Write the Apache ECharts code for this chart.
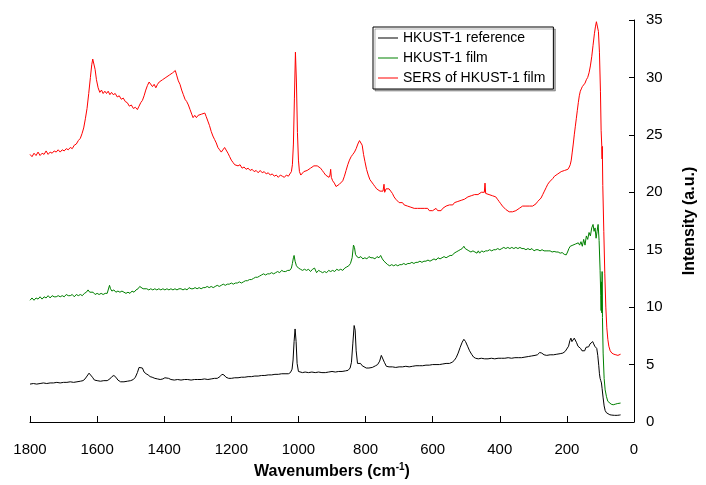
<!DOCTYPE html>
<html>
<head>
<meta charset="utf-8">
<title>HKUST-1 Raman spectra</title>
<script src="https://cdn.jsdelivr.net/npm/echarts@6/dist/echarts.min.js"></script>
<style>
  html, body { margin: 0; padding: 0; background: #fff; }
  #chart { width: 706px; height: 485px; }
</style>
</head>
<body>
<div id="chart"></div>
<script>
// Raman spectra, [wavenumber (cm-1), intensity (a.u.)]
const referenceSpectrum = [
  [1800,3.3],[1790,3.35],[1780,3.3],[1770,3.35],[1760,3.4],[1750,3.35],[1740,3.4],[1730,3.4],[1720,3.45],[1710,3.4],
  [1700,3.45],[1690,3.45],[1680,3.5],[1670,3.45],[1660,3.5],[1650,3.55],[1642,3.6],[1636,3.75],[1630,4.0],[1624,4.25],
  [1619,4.2],[1614,3.9],[1608,3.65],[1600,3.6],[1590,3.55],[1580,3.6],[1570,3.6],[1562,3.75],[1556,3.95],[1550,4.05],
  [1544,3.9],[1538,3.65],[1530,3.5],[1520,3.5],[1510,3.55],[1500,3.6],[1492,3.7],[1486,3.9],[1480,4.3],[1475,4.75],
  [1470,4.9],[1465,4.7],[1460,4.35],[1454,4.2],[1448,4.1],[1442,3.95],[1436,3.9],[1428,3.8],[1420,3.75],[1412,3.7],
  [1404,3.75],[1398,3.85],[1393,3.9],[1387,3.8],[1380,3.7],[1370,3.65],[1360,3.7],[1350,3.65],[1340,3.7],[1330,3.7],
  [1320,3.65],[1310,3.7],[1300,3.7],[1290,3.7],[1280,3.75],[1270,3.7],[1260,3.75],[1250,3.8],[1242,3.8],[1234,3.95],
  [1228,4.15],[1222,4.1],[1216,3.9],[1208,3.8],[1200,3.8],[1190,3.85],[1180,3.85],[1170,3.9],[1160,3.9],[1150,3.95],
  [1140,3.95],[1130,4.0],[1120,4.0],[1110,4.05],[1100,4.05],[1090,4.1],[1080,4.1],[1070,4.15],[1060,4.15],[1050,4.2],
  [1040,4.2],[1030,4.2],[1024,4.3],[1019,4.6],[1016,5.4],[1013,7.0],[1010,8.1],[1007,7.0],[1004,5.1],[1000,4.4],
  [995,4.3],[988,4.3],[980,4.35],[970,4.3],[960,4.35],[950,4.3],[940,4.35],[930,4.3],[920,4.3],[910,4.35],
  [900,4.4],[890,4.35],[880,4.4],[870,4.4],[860,4.45],[852,4.5],[846,4.7],[842,5.2],[838,6.8],[834,8.4],
  [831,8.0],[828,6.2],[824,5.1],[820,5.0],[815,5.1],[810,4.9],[805,4.75],[798,4.7],[790,4.7],[780,4.75],
  [770,4.9],[764,5.0],[758,5.3],[753,5.8],[749,5.7],[744,5.2],[738,4.85],[730,4.8],[720,4.8],[710,4.75],
  [700,4.8],[690,4.8],[680,4.85],[670,4.8],[660,4.85],[650,4.9],[640,4.9],[630,4.9],[620,4.95],[610,4.95],
  [600,5.0],[590,5.0],[580,5.0],[570,5.05],[560,5.1],[550,5.1],[542,5.2],[536,5.35],[530,5.6],[524,6.0],
  [518,6.5],[512,6.95],[507,7.2],[502,7.0],[496,6.6],[490,6.2],[484,5.9],[478,5.65],[472,5.55],[464,5.5],
  [455,5.55],[445,5.5],[435,5.5],[425,5.55],[415,5.5],[405,5.55],[395,5.55],[385,5.55],[375,5.6],[365,5.55],
  [355,5.6],[345,5.6],[335,5.6],[325,5.65],[315,5.7],[305,5.75],[295,5.8],[288,5.85],[281,6.05],[275,6.0],
  [268,5.85],[260,5.8],[250,5.85],[240,5.85],[230,5.9],[220,5.95],[212,6.0],[205,6.15],[200,6.3],[195,6.6],
  [191,7.1],[188,7.3],[185,7.0],[181,7.0],[178,7.3],[175,7.2],[171,6.9],[167,6.6],[163,6.5],[159,6.4],
  [155,6.2],[151,6.1],[147,6.2],[143,6.5],[139,6.4],[135,6.55],[131,6.8],[127,6.9],[123,7.0],[120,6.8],
  [117,6.6],[114,6.7],[111,6.4],[108,5.8],[105,4.9],[103,4.2],[101,3.8],[99,3.6],[97,3.4],[95,2.9],
  [92,2.1],[89,1.4],[86,1.0],[82,0.8],[78,0.7],[72,0.63],[66,0.6],[58,0.58],[50,0.58],[44,0.6],[40,0.62]
];

const filmSpectrum = [
  [1800,10.6],[1794,10.8],[1788,10.6],[1782,10.8],[1776,10.7],[1770,10.9],[1764,10.7],[1758,10.9],[1752,10.8],[1746,11.0],
  [1740,10.8],[1734,11.0],[1728,10.9],[1722,10.9],[1716,11.0],[1710,10.9],[1704,11.0],[1698,10.9],[1692,11.1],[1686,11.0],
  [1680,11.0],[1674,11.1],[1668,10.9],[1662,11.1],[1656,11.0],[1650,11.1],[1644,11.0],[1638,11.2],[1632,11.3],[1627,11.5],
  [1622,11.3],[1617,11.2],[1612,11.3],[1606,11.1],[1600,11.2],[1594,11.1],[1588,11.2],[1582,11.1],[1576,11.2],[1570,11.2],
  [1566,11.3],[1563,11.9],[1560,11.6],[1556,11.4],[1550,11.5],[1544,11.3],[1538,11.4],[1532,11.3],[1526,11.4],[1520,11.3],
  [1514,11.2],[1508,11.3],[1502,11.2],[1496,11.4],[1490,11.3],[1484,11.5],[1478,11.6],[1473,11.8],[1468,11.8],[1463,11.6],
  [1458,11.5],[1452,11.6],[1446,11.5],[1440,11.6],[1434,11.5],[1428,11.6],[1422,11.5],[1416,11.6],[1410,11.5],[1404,11.6],
  [1398,11.5],[1392,11.6],[1386,11.5],[1380,11.6],[1374,11.5],[1368,11.6],[1362,11.5],[1356,11.6],[1350,11.6],[1344,11.5],
  [1338,11.6],[1332,11.5],[1326,11.7],[1320,11.6],[1314,11.6],[1308,11.7],[1302,11.6],[1296,11.7],[1290,11.6],[1284,11.7],
  [1278,11.7],[1272,11.8],[1266,11.7],[1260,11.8],[1254,11.7],[1248,11.8],[1242,11.9],[1236,11.8],[1230,11.9],[1224,12.0],
  [1218,11.9],[1212,12.0],[1206,12.0],[1200,12.1],[1194,12.0],[1188,12.1],[1182,12.1],[1176,12.2],[1170,12.1],[1164,12.2],
  [1158,12.3],[1152,12.3],[1146,12.4],[1140,12.4],[1134,12.5],[1128,12.6],[1122,12.6],[1116,12.7],[1110,12.8],[1104,12.9],
  [1098,12.8],[1092,12.9],[1086,12.9],[1080,13.0],[1074,12.9],[1068,13.0],[1062,13.1],[1056,13.0],[1050,13.2],[1044,13.1],
  [1038,13.1],[1032,13.2],[1026,13.2],[1021,13.4],[1018,13.8],[1015,14.3],[1013,14.5],[1010,14.0],[1006,13.6],[1000,13.4],
  [994,13.3],[988,13.2],[982,13.3],[976,13.2],[970,13.3],[964,13.1],[958,13.3],[952,13.4],[946,13.0],[940,13.2],
  [934,13.1],[928,13.0],[922,13.1],[916,13.0],[910,13.2],[904,13.1],[898,13.2],[892,13.1],[886,13.3],[880,13.2],
  [874,13.3],[868,13.2],[862,13.4],[856,13.5],[850,13.6],[845,13.8],[840,14.3],[836,15.4],[833,15.2],[830,14.6],
  [826,14.4],[820,14.3],[814,14.4],[808,14.2],[802,14.3],[796,14.2],[790,14.4],[784,14.3],[778,14.3],[772,14.2],
  [766,14.4],[760,14.3],[755,14.5],[750,14.2],[745,14.0],[740,13.9],[734,13.7],[728,13.6],[722,13.7],[716,13.6],
  [710,13.7],[704,13.6],[698,13.7],[692,13.7],[686,13.8],[680,13.7],[674,13.8],[668,13.8],[662,13.9],[656,13.8],
  [650,13.9],[644,13.9],[638,14.0],[632,13.9],[626,14.0],[620,14.0],[614,14.1],[608,14.0],[602,14.1],[596,14.2],
  [590,14.1],[584,14.3],[578,14.2],[572,14.3],[566,14.4],[560,14.3],[554,14.4],[548,14.5],[542,14.5],[536,14.7],
  [530,14.8],[524,14.9],[518,15.0],[512,15.1],[507,15.3],[503,15.1],[498,15.0],[492,14.9],[486,14.8],[480,14.9],
  [474,14.8],[468,14.7],[464,14.9],[460,14.7],[454,14.9],[448,14.8],[442,14.9],[436,14.9],[430,15.0],[424,14.9],
  [418,15.0],[412,15.0],[406,15.1],[400,15.0],[394,15.1],[388,15.2],[382,15.1],[376,15.2],[370,15.1],[364,15.2],
  [358,15.1],[352,15.2],[346,15.1],[340,15.2],[334,15.1],[328,15.1],[322,15.0],[316,15.1],[310,15.0],[304,15.1],
  [298,14.9],[292,15.0],[286,15.0],[280,14.9],[274,15.0],[268,14.9],[262,14.9],[256,14.9],[250,14.9],[244,14.8],
  [238,14.85],[232,14.8],[226,14.8],[220,14.7],[214,14.75],[208,14.6],[202,14.55],[198,14.8],[194,15.1],[190,15.3],
  [186,15.2],[182,15.4],[178,15.3],[174,15.5],[170,15.4],[166,15.6],[162,15.4],[158,15.7],[154,15.3],[150,15.9],
  [146,15.4],[142,16.2],[138,15.9],[134,16.5],[130,16.2],[126,16.9],[122,17.2],[119,16.6],[116,16.9],[113,16.0],
  [110,16.6],[107,17.2],[104,15.8],[101,13.2],[99,11.0],[98,9.7],[97,12.2],[96,9.5],[95,13.1],[94,9.1],
  [92,6.0],[89,3.8],[86,2.8],[82,2.2],[78,1.8],[73,1.65],[68,1.55],[62,1.5],[56,1.55],[50,1.6],[45,1.65],[40,1.65]
];

const sersSpectrum = [
  [1800,23.3],[1794,23.1],[1788,23.4],[1782,23.2],[1776,23.5],[1770,23.2],[1764,23.4],[1758,23.3],[1752,23.6],[1746,23.3],
  [1740,23.5],[1734,23.4],[1728,23.6],[1722,23.5],[1716,23.7],[1710,23.5],[1704,23.7],[1698,23.6],[1692,23.8],[1686,23.7],
  [1680,23.9],[1674,23.8],[1668,24.1],[1662,24.2],[1656,24.5],[1650,24.7],[1645,25.1],[1640,25.6],[1635,26.4],[1630,27.3],
  [1625,28.6],[1620,30.0],[1616,31.1],[1613,31.6],[1610,31.5],[1606,30.7],[1602,29.8],[1597,29.1],[1592,28.7],[1587,28.9],
  [1582,28.6],[1577,28.8],[1572,28.6],[1567,28.8],[1562,28.5],[1557,28.7],[1552,28.5],[1546,28.6],[1540,28.3],[1534,28.4],
  [1528,28.1],[1522,28.2],[1516,27.9],[1510,27.8],[1504,27.5],[1498,27.6],[1492,27.3],[1486,27.4],[1480,27.2],[1475,27.5],
  [1470,27.8],[1465,28.0],[1460,28.4],[1455,28.9],[1450,29.3],[1445,29.6],[1440,29.5],[1435,29.2],[1430,29.4],[1425,29.1],
  [1420,29.4],[1415,29.6],[1410,29.5],[1405,29.8],[1400,29.7],[1395,30.0],[1390,29.9],[1385,30.2],[1380,30.1],[1375,30.4],
  [1370,30.3],[1367,30.6],[1363,30.2],[1358,29.7],[1353,29.4],[1348,28.9],[1343,28.5],[1338,28.1],[1333,27.9],[1328,27.6],
  [1323,27.2],[1318,26.8],[1314,26.5],[1309,26.7],[1304,26.5],[1299,26.7],[1294,26.6],[1289,26.8],[1284,26.7],[1279,26.9],
  [1275,26.6],[1270,26.2],[1265,25.8],[1260,25.3],[1255,24.9],[1250,24.6],[1245,24.3],[1240,23.9],[1235,23.7],[1230,23.5],
  [1225,23.6],[1220,23.9],[1215,23.8],[1210,23.4],[1205,23.1],[1200,22.8],[1195,22.6],[1190,22.4],[1185,22.5],[1180,22.3],
  [1174,22.4],[1168,22.1],[1162,22.2],[1156,22.0],[1150,22.1],[1144,21.9],[1138,22.0],[1132,21.8],[1126,21.9],[1120,21.7],
  [1114,21.9],[1108,21.7],[1102,21.8],[1096,21.6],[1090,21.7],[1084,21.5],[1078,21.6],[1072,21.4],[1066,21.5],[1060,21.3],
  [1054,21.5],[1048,21.4],[1042,21.3],[1036,21.5],[1030,21.4],[1025,21.5],[1021,21.8],[1018,22.4],[1015,24.2],[1012,28.2],
  [1009,32.2],[1006,29.6],[1003,25.2],[1000,22.8],[997,21.8],[993,21.5],[989,21.6],[984,21.8],[979,21.7],[974,21.9],
  [969,22.0],[964,22.1],[959,22.2],[954,22.3],[949,22.4],[944,22.3],[939,22.4],[934,22.1],[929,21.9],[924,21.7],
  [919,21.5],[914,21.4],[909,21.3],[906,21.5],[904,22.0],[902,21.3],[898,21.0],[893,20.8],[888,20.5],[883,20.6],
  [878,20.7],[873,20.8],[868,21.0],[863,21.4],[858,21.9],[853,22.4],[848,22.8],[843,23.1],[838,23.3],[833,23.5],
  [828,23.8],[823,24.2],[818,24.5],[814,24.6],[810,24.1],[806,23.3],[802,22.7],[797,22.0],[792,21.5],[787,21.1],
  [782,20.9],[777,20.7],[772,20.5],[767,20.3],[762,20.2],[757,20.1],[752,20.0],[748,20.1],[745,20.7],[743,20.0],
  [739,20.3],[735,20.4],[730,20.3],[725,20.1],[720,19.9],[715,19.6],[710,19.4],[705,19.3],[700,19.1],[695,19.0],
  [690,19.1],[685,18.9],[680,19.0],[675,18.8],[670,18.9],[665,18.7],[660,18.8],[655,18.6],[650,18.7],[645,18.6],
  [640,18.5],[635,18.6],[630,18.5],[625,18.6],[620,18.5],[615,18.6],[610,18.4],[605,18.5],[600,18.4],[595,18.5],
  [590,18.6],[585,18.4],[580,18.5],[575,18.4],[570,18.6],[565,18.7],[560,18.8],[555,18.8],[550,18.9],[545,19.0],
  [540,18.9],[535,19.1],[530,19.1],[525,19.2],[520,19.2],[515,19.3],[510,19.4],[505,19.4],[500,19.5],[495,19.6],
  [490,19.6],[485,19.7],[480,19.7],[475,19.8],[470,19.9],[465,19.8],[460,19.9],[455,20.0],[450,19.9],[446,20.0],
  [444,20.8],[442,19.9],[437,19.9],[432,19.8],[427,19.7],[422,19.7],[417,19.6],[412,19.6],[407,19.4],[402,19.2],
  [397,19.0],[392,18.8],[387,18.7],[382,18.5],[377,18.4],[372,18.3],[367,18.2],[362,18.3],[357,18.2],[352,18.4],
  [347,18.5],[342,18.6],[337,18.7],[332,18.8],[327,18.7],[322,18.8],[317,18.9],[312,18.8],[307,18.9],[302,18.8],
  [297,18.9],[292,19.0],[287,19.2],[282,19.3],[277,19.5],[272,19.8],[267,20.1],[262,20.4],[257,20.7],[252,20.9],
  [247,21.0],[242,21.2],[237,21.4],[232,21.5],[227,21.6],[222,21.7],[217,21.8],[212,21.8],[207,21.9],[202,21.9],
  [197,22.0],[193,22.2],[190,22.4],[187,22.8],[184,23.5],[181,24.2],[178,25.0],[175,25.7],[172,26.4],[169,27.1],
  [166,27.8],[163,28.4],[160,28.8],[157,29.0],[154,29.2],[150,29.3],[146,29.5],[142,29.8],[138,30.0],[134,30.4],
  [130,31.0],[126,31.8],[122,32.8],[118,33.8],[115,34.4],[112,34.85],[109,34.7],[106,34.0],[103,32.2],[100,28.8],
  [98,25.4],[96,24.0],[95,22.9],[94.5,24.0],[93,20.6],[90,16.6],[87,12.9],[84,10.0],[81,8.2],[78,7.2],
  [75,6.6],[71,6.2],[66,6.0],[60,5.9],[54,5.85],[48,5.8],[43,5.85],[40,5.9]
];

const seriesNames = ['HKUST-1 reference', 'HKUST-1 film', 'SERS of HKUST-1 film'];
const seriesColors = ['#000000', '#008000', '#ff0000'];
const xTicks = { min: 0, max: 1800, step: 200 };
const yTicks = { min: 0, max: 35, step: 5 };

const FONT = '"Liberation Sans", Arial, sans-serif';

const chart = echarts.init(document.getElementById('chart'), null, { renderer: 'canvas' });

const spectra = [referenceSpectrum, filmSpectrum, sersSpectrum];

chart.setOption({
  backgroundColor: '#ffffff',
  animation: false,
  grid: { left: 30, right: 61.5, top: 20, bottom: 59, containLabel: false },
  legend: {
    orient: 'vertical',
    left: 373,
    top: 27,
    padding: [4, 8, 4, 5],
    itemGap: 6,
    itemWidth: 20,
    itemHeight: 1,
    icon: 'rect',
    backgroundColor: '#ffffff',
    borderColor: '#000000',
    borderWidth: 1,
    borderRadius: 0,
    shadowColor: 'rgba(0,0,0,0.3)',
    shadowOffsetX: 2,
    shadowOffsetY: 2,
    shadowBlur: 0,
    textStyle: { fontFamily: FONT, fontSize: 14, color: '#000', lineHeight: 14 },
    data: seriesNames
  },
  xAxis: {
    type: 'value',
    inverse: true,
    min: xTicks.min,
    max: xTicks.max,
    interval: xTicks.step,
    axisLine: { show: true, onZero: false, lineStyle: { color: '#000', width: 1 } },
    axisTick: { show: true, inside: true, length: 6, lineStyle: { color: '#000' } },
    axisLabel: { fontFamily: FONT, fontSize: 15, color: '#000', margin: 20, formatter: v => String(v) },
    splitLine: { show: false },
    name: '{t|Wavenumbers (cm}{s|-1}{t|)}',
    nameLocation: 'middle',
    nameGap: 40,
    nameTextStyle: {
      rich: {
        t: { fontFamily: FONT, fontSize: 16, fontWeight: 'bold', color: '#000', lineHeight: 20 },
        s: { fontFamily: FONT, fontSize: 10, fontWeight: 'bold', color: '#000', verticalAlign: 'top', lineHeight: 12 }
      }
    }
  },
  yAxis: {
    type: 'value',
    position: 'right',
    min: yTicks.min,
    max: yTicks.max,
    interval: yTicks.step,
    axisLine: { show: true, onZero: false, lineStyle: { color: '#000', width: 1 } },
    axisTick: { show: true, inside: true, length: 5, lineStyle: { color: '#000' } },
    axisLabel: { fontFamily: FONT, fontSize: 15, color: '#000', margin: 12 },
    splitLine: { show: false },
    name: 'Intensity (a.u.)',
    nameLocation: 'middle',
    nameRotate: 90,
    nameGap: 48,
    nameTextStyle: { fontFamily: FONT, fontSize: 16, fontWeight: 'bold', color: '#000' }
  },
  series: spectra.map((data, i) => ({
    name: seriesNames[i],
    type: 'line',
    data: data,
    symbol: 'none',
    showSymbol: false,
    smooth: false,
    lineStyle: { color: seriesColors[i], width: 1 },
    itemStyle: { color: seriesColors[i] },
    z: 2 + i
  }))
});
</script>
</body>
</html>
